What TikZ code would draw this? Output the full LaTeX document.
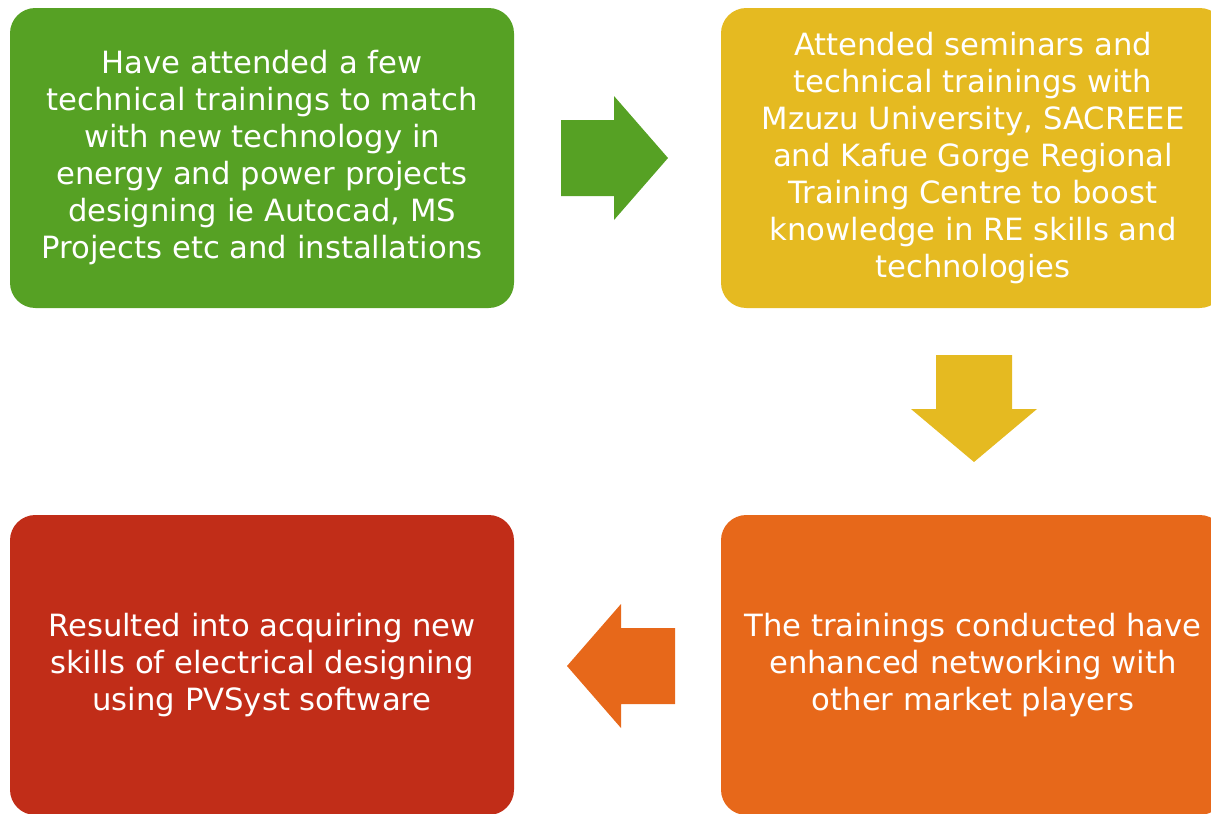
\documentclass[tikz,border=0pt]{standalone}
\usepackage{fontspec}
\setmainfont{DejaVu Sans}
\definecolor{leafgreen}{RGB}{86,161,36}
\definecolor{mustard}{RGB}{229,186,33}
\definecolor{burntorange}{RGB}{231,104,26}
\definecolor{brickred}{RGB}{193,45,24}
\tikzset{
  card/.style={fill=#1, rounded corners=19pt, text=white, align=center,
    minimum width=378pt, minimum height=225pt, inner sep=0pt,
    font=\fontsize{23}{27.75}\selectfont}
}
\begin{document}
\begin{tikzpicture}[x=0.75pt,y=-0.75pt]

\useasboundingbox (0,0) rectangle (1211,814);
\clip (0,0) rectangle (1211,814);

% the four stages
\node[card=leafgreen] (attend) at (262,158) {Have attended a few\\technical trainings to match\\with new technology in\\energy and power projects\\designing ie Autocad, MS\\Projects etc and installations};
\node[card=mustard] (seminar) at (973,158) {Attended seminars and\\technical trainings with\\Mzuzu University, SACREEE\\and Kafue Gorge Regional\\Training Centre to boost\\knowledge in RE skills and\\technologies};
\node[card=burntorange] (network) at (973,665) {The trainings conducted have\\enhanced networking with\\other market players};
\node[card=brickred] (skills) at (262,665) {Resulted into acquiring new\\skills of electrical designing\\using PVSyst software};

% block arrows between the stages
\coordinate (tipright) at (668,158);
\coordinate (tipdown) at (974,462);
\coordinate (tipleft) at (567,666);
\fill[leafgreen] (tipright) -- ++(-54,-62) -- ++(0,24) -- ++(-53,0) -- ++(0,76) -- ++(53,0) -- ++(0,24) -- cycle;
\fill[mustard] (tipdown) -- ++(63,-53) -- ++(-25,0) -- ++(0,-54) -- ++(-76,0) -- ++(0,54) -- ++(-25,0) -- cycle;
\fill[burntorange] (tipleft) -- ++(54,-62) -- ++(0,24) -- ++(54,0) -- ++(0,76) -- ++(-54,0) -- ++(0,24) -- cycle;

\end{tikzpicture}
\end{document}
